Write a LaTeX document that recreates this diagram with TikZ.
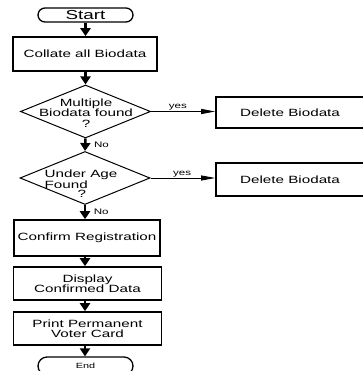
\documentclass[tikz,border=0pt]{standalone}
\usepackage{fontspec}
\newfontfamily\flowfont[FakeStretch=1.45]{Liberation Sans}
\usetikzlibrary{shapes.geometric, shapes.misc, arrows.meta}

\begin{document}
\begin{tikzpicture}[x=1pt, y=-1pt,
  font=\flowfont\fontsize{10.5}{10.5}\selectfont,
  terminal/.style={rounded rectangle, draw, line width=1.3pt, minimum width=95pt, minimum height=14pt, inner sep=0pt},
  process/.style={rectangle, draw, line width=1.6pt, align=center, inner sep=0pt},
  decision/.style={diamond, draw, line width=1pt, minimum width=130pt, minimum height=53pt, inner sep=0pt},
  flow/.style={line width=2.5pt, -{Triangle[width=10pt, length=8pt]}},
  branch/.style={line width=0.9pt, -{Triangle[width=5pt, length=14pt]}},
  tag/.style={font=\flowfont\fontsize{8}{8}\selectfont, inner sep=0.5pt}]

  % Rahmen
  \useasboundingbox (0,0) rectangle (362,371);

  % Hauptspalte
  \node[terminal, font=\flowfont\fontsize{13}{13}\selectfont] (start) at (85.5,15) {Start};
  \node[process, minimum width=144pt, minimum height=34pt] (collate) at (85,54) {Collate all Biodata};
  \node[decision] (dup) at (85.5,111.5) {};
  \node[align=center] (dupq) at (86,113) {Multiple\\Biodata found\\?};
  \node[decision] (age) at (85,178) {};
  \node[align=left, font=\flowfont\fontsize{10.5}{9.5}\selectfont] (ageq) at (81,184) {Under Age\\Found\\\hspace*{33pt}?};
  \node[process, minimum width=146pt, minimum height=36pt] (confirm) at (87,238) {Confirm Registration};
  \node[process, minimum width=148pt, minimum height=33pt] (display) at (87.5,283.5) {Display\\Confirmed Data};
  \node[process, minimum width=148pt, minimum height=33pt] (print) at (87.5,328.5) {Print Permanent\\Voter Card};
  \node[terminal, minimum height=18pt, font=\flowfont\fontsize{7.5}{7.5}\selectfont] (end) at (85.5,366) {End};

  % Loeschen
  \node[process, minimum width=148pt, minimum height=31pt] (del1) at (290,112.5) {Delete Biodata};
  \node[process, minimum width=148pt, minimum height=33pt] (del2) at (290,179.5) {Delete Biodata};

  % Pfeile
  \draw[flow] (start.south) -- (start.south |- collate.north);
  \draw[flow] (dup.north |- collate.south) -- (dup.north);
  \draw[flow] (dup.south) -- node[tag, right, xshift=7pt] {No} (age.north);
  \draw[flow] (age.south) -- node[tag, right, xshift=7pt] {No} (age.south |- confirm.north);
  \draw[flow] (age.south |- confirm.south) -- (age.south |- display.north);
  \draw[flow] (age.south |- display.south) -- (age.south |- print.north);
  \draw[flow] (age.south |- print.south) -- (age.south |- end.north);

  % Abzweige
  \draw[branch] (dup.east) -- node[tag, above, pos=0.42] {yes} (dup.east -| del1.west);
  \draw[branch] (age.east) -- node[tag, above, pos=0.49] {yes} (age.east -| del2.west);

\end{tikzpicture}
\end{document}
